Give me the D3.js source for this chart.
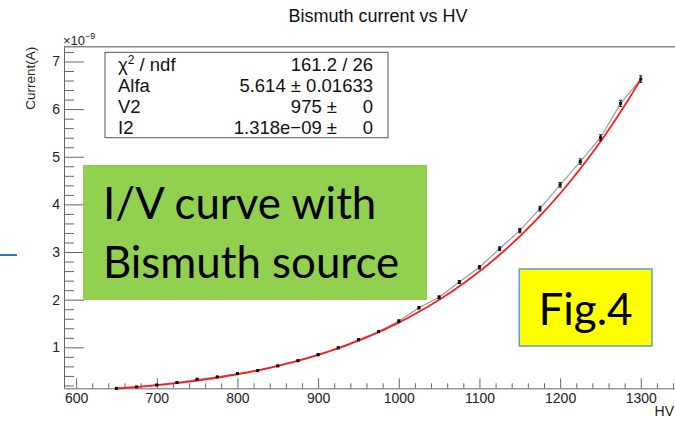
<!DOCTYPE html>
<html>
<head>
<meta charset="utf-8">
<script src="https://cdn.jsdelivr.net/npm/d3@7"></script>
<style>
  html, body { margin: 0; padding: 0; background: #fff; }
  svg { display: block; }
</style>
</head>
<body>
<svg id="chart" width="675" height="421"></svg>
<script>
// Measured anode current (x1e-9 A) against high voltage (V)
const hv = [650, 675, 700, 725, 750, 775, 800, 825, 850, 875, 900, 925, 950, 975,
            1000, 1025, 1050, 1075, 1100, 1125, 1150, 1175, 1200, 1225, 1250, 1275, 1300];
const current = [0.14, 0.17, 0.21, 0.26, 0.33, 0.38, 0.45, 0.51, 0.61, 0.72, 0.845, 0.99, 1.16, 1.33,
                 1.55, 1.83, 2.05, 2.37, 2.68, 3.07, 3.45, 3.91, 4.41, 4.90, 5.40, 6.12, 6.63];
const currentErr = [0.01, 0.01, 0.01, 0.01, 0.01, 0.01, 0.01, 0.015, 0.015, 0.015, 0.02, 0.02, 0.02, 0.02,
                    0.025, 0.025, 0.03, 0.03, 0.035, 0.04, 0.045, 0.05, 0.05, 0.055, 0.06, 0.065, 0.07];

// Power-law fit I = I2 * (V / V2)^Alfa
const fitAlfa = 5.614, fitV2 = 975, fitI2 = 1.318; // I2 in units of 1e-9 A
const fitRange = [650, 1300];

// Stats box rows
const statNames = ["χ2 / ndf", "Alfa", "V2", "I2"];
const statValues = ["161.2 / 26", "5.614 ± 0.01633", "975 ±     0", "1.318e−09 ±     0"];

const xMajor = [600, 700, 800, 900, 1000, 1100, 1200, 1300];
const yMajor = [1, 2, 3, 4, 5, 6, 7];

const SANS = "'Liberation Sans', Arial, Helvetica, sans-serif";
const SLIDE = "Lato, 'Open Sans', sans-serif";

const svg = d3.select("#chart").style("font-family", SANS);
const frameLeft = 64, frameTop = 46.7, frameBottom = 388.3;

const x = d3.scaleLinear().domain([585, 1365]).range([frameLeft, frameLeft + 780 * 0.8067]);
const y = d3.scaleLinear().domain([0.14, 7.31]).range([frameBottom, frameTop]);

// Frame top edge
svg.append("line").attr("x1", frameLeft).attr("x2", 675).attr("y1", frameTop).attr("y2", frameTop)
  .attr("stroke", "#8a8a8a").attr("stroke-width", 1.5);

// X axis: major and minor ticks pointing into the frame
const xMinor = d3.range(580, 1366, 20).filter(v => v >= 585 && v % 100 !== 0);
const gx = svg.append("g").attr("transform", `translate(0,${frameBottom})`);
gx.call(d3.axisBottom(x).tickValues(xMajor).tickFormat(d3.format("d"))
  .tickSizeInner(-10).tickSizeOuter(0).tickPadding(5));
gx.append("g").call(d3.axisBottom(x).tickValues(xMinor).tickSizeInner(-5).tickSizeOuter(0).tickFormat(""))
  .select(".domain").remove();
gx.selectAll("line, path").attr("stroke", "#666");
gx.selectAll("text").attr("fill", "#222").style("font-size", "14px").style("font-family", SANS);

// Y axis
const yMinor = d3.range(0.2, 7.31, 0.2).map(v => +v.toFixed(1)).filter(v => Math.abs(v - Math.round(v)) > 1e-6);
const gy = svg.append("g").attr("transform", `translate(${frameLeft},0)`);
gy.call(d3.axisLeft(y).tickValues(yMajor).tickFormat(d3.format("d"))
  .tickSizeInner(-20).tickSizeOuter(0).tickPadding(4));
gy.append("g").call(d3.axisLeft(y).tickValues(yMinor).tickSizeInner(-10).tickSizeOuter(0).tickFormat(""))
  .select(".domain").remove();
gy.selectAll("line, path").attr("stroke", "#666");
gy.selectAll("text").attr("fill", "#222").style("font-size", "14px").style("font-family", SANS);

// Exponent marker above the y axis
const ex = svg.append("text").attr("x", 63).attr("y", 45).style("font-size", "13px").attr("fill", "#222");
ex.append("tspan").text("×10");
ex.append("tspan").attr("dy", -6).style("font-size", "9px").text("−9");

// Axis titles
svg.append("text").attr("transform", `translate(35,${frameTop}) rotate(-90)`)
  .attr("text-anchor", "end").style("font-size", "13.5px").attr("fill", "#222").text("Current(A)");
svg.append("text").attr("x", 674).attr("y", 416).attr("text-anchor", "end")
  .style("font-size", "14px").attr("fill", "#222").text("HV");

// Chart title
svg.append("text").attr("x", 378).attr("y", 21.7).attr("text-anchor", "middle")
  .style("font-size", "18px").attr("fill", "#111").text("Bismuth current vs HV");

// Data: connecting line, error bars, markers
const pts = hv.map((v, i) => ({ v, c: current[i], e: currentErr[i] }));
svg.append("path").datum(pts)
  .attr("d", d3.line().x(d => x(d.v)).y(d => y(d.c)))
  .attr("fill", "none").attr("stroke", "#9a9a9a").attr("stroke-width", 1.2);

// Fit curve
const fitV = d3.range(fitRange[0], fitRange[1] + 0.1, 5);
svg.append("path").datum(fitV)
  .attr("d", d3.line().x(v => x(v)).y(v => y(fitI2 * Math.pow(v / fitV2, fitAlfa))).curve(d3.curveMonotoneX))
  .attr("fill", "none").attr("stroke", "#ff1a1a").attr("stroke-width", 1.8);

const eb = svg.append("g").attr("stroke", "#111").attr("stroke-width", 1);
pts.forEach(d => {
  eb.append("line").attr("x1", x(d.v)).attr("x2", x(d.v)).attr("y1", y(d.c - d.e)).attr("y2", y(d.c + d.e));
  eb.append("line").attr("x1", x(d.v) - 1.5).attr("x2", x(d.v) + 1.5).attr("y1", y(d.c - d.e)).attr("y2", y(d.c - d.e));
  eb.append("line").attr("x1", x(d.v) - 1.5).attr("x2", x(d.v) + 1.5).attr("y1", y(d.c + d.e)).attr("y2", y(d.c + d.e));
});
svg.append("g").selectAll("rect").data(pts).join("rect")
  .attr("x", d => x(d.v) - 1.5).attr("y", d => y(d.c) - 1.5)
  .attr("width", 3).attr("height", 3).attr("fill", "#111");

// Fit statistics box
svg.append("rect").attr("x", 105).attr("y", 52.3).attr("width", 283).attr("height", 85.4)
  .attr("fill", "#fff").attr("stroke", "#555").attr("stroke-width", 1);
const rowY = [71, 92.3, 113, 133.5];
statNames.forEach((n, i) => {
  const t = svg.append("text").attr("x", 118).attr("y", rowY[i]).style("font-size", "18.5px").attr("fill", "#111");
  if (n.startsWith("χ2")) {
    t.append("tspan").text("χ");
    t.append("tspan").attr("dy", -7).style("font-size", "12px").text("2");
    t.append("tspan").attr("dy", 7).text(" / ndf");
  } else {
    t.text(n);
  }
  svg.append("text").attr("x", 373).attr("y", rowY[i]).attr("text-anchor", "end")
    .style("font-size", "18.5px").attr("fill", "#111").style("white-space", "pre")
    .text(statValues[i]);
});

// Annotation boxes
svg.append("line").attr("x1", 0).attr("x2", 17).attr("y1", 255).attr("y2", 255)
  .attr("stroke", "#2e75b6").attr("stroke-width", 2);

svg.append("rect").attr("x", 83).attr("y", 165).attr("width", 344).attr("height", 135).attr("fill", "#92d050");
svg.append("text").attr("x", 103).attr("y", 219).style("font-family", SLIDE)
  .style("font-size", "43.8px").attr("fill", "#000").text("I/V curve with");
svg.append("text").attr("x", 103).attr("y", 277.5).style("font-family", SLIDE)
  .style("font-size", "43.8px").attr("fill", "#000").text("Bismuth source");

svg.append("rect").attr("x", 519.3).attr("y", 269).attr("width", 132.7).attr("height", 77)
  .attr("fill", "#ffff00").attr("stroke", "#5b9bd5").attr("stroke-width", 1.5);
svg.append("text").attr("x", 585.5).attr("y", 325).attr("text-anchor", "middle").style("font-family", SLIDE)
  .style("font-size", "44px").attr("fill", "#000").text("Fig.4");
</script>
</body>
</html>
